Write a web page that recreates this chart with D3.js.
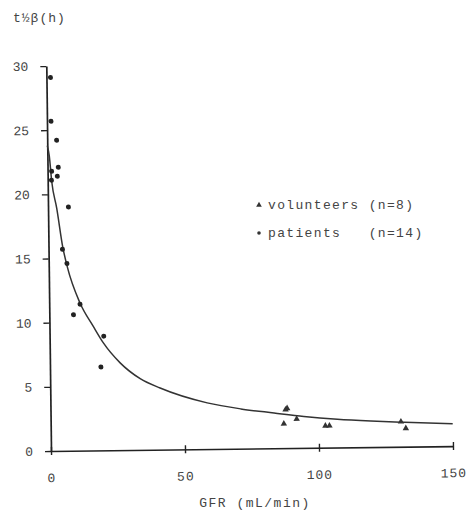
<!DOCTYPE html>
<html>
<head>
<meta charset="utf-8">
<script src="https://cdn.jsdelivr.net/npm/d3@7"></script>
<style>
  body { margin: 0; background: #fff; }
  text { font-family: "Liberation Mono", "DejaVu Sans Mono", monospace; fill: #444; }
</style>
</head>
<body>
<div id="chart"></div>
<script>
// values: GFR (mL/min) vs t1/2 beta (h)
const patientsGfr = [1.5, 1.5, 3.5, 4.0, 3.6, 1.5, 1.4, 7.6, 5.2, 6.8, 11.5, 9.0, 20.2, 19.0];
const patientsT = [29.1, 25.7, 24.2, 22.1, 21.4, 21.8, 21.1, 19.0, 15.7, 14.6, 11.4, 10.6, 8.9, 6.5];

const volunteersGfr = [87.7, 88.3, 87.0, 91.8, 102.5, 104.0, 130.7, 132.5];
const volunteersT = [3.0, 3.1, 1.9, 2.26, 1.7, 1.7, 1.95, 1.43];

// fitted curve
const curveGfr = [0, 0.7, 1.5, 3.25, 5.3, 6.9, 11.5, 16.4, 20.1, 26.2, 33.6, 41, 58.5, 71, 83.4, 94.5, 107, 119.5, 132, 150];
const curveT = [23.8, 23.0, 21, 18.9, 15.9, 14.35, 11.5, 9.65, 8.35, 6.8, 5.55, 4.8, 3.6, 3.1, 2.75, 2.45, 2.2, 2.03, 1.9, 1.75];

const xTicks = [0, 50, 100, 150];
const yTicks = [0, 5, 10, 15, 20, 25, 30];

const legendItems = [
    { label: "volunteers (n=8)", shape: "triangle" },
    { label: "patients   (n=14)", shape: "dot" }
];

const W = 472, H = 510;
const ox = 51, oy = 451;

const svg = d3.select("#chart").append("svg")
    .attr("width", W)
    .attr("height", H);

// scan is slightly rotated
const plot = svg.append("g")
    .attr("transform", `rotate(-0.7, ${ox}, ${oy})`);

const x = d3.scaleLinear().domain([0, 150]).range([ox, 453]);
const y = d3.scaleLinear().domain([0, 30]).range([oy, 66]);

// x axis
const xAxis = plot.append("g")
    .attr("transform", `translate(0, ${oy})`)
    .call(d3.axisBottom(x).tickValues(xTicks).tickSize(4).tickSizeOuter(0).tickPadding(18));
xAxis.select(".domain").attr("stroke", "#222").attr("stroke-width", 1.7);
xAxis.selectAll(".tick line").attr("y1", -4).attr("y2", 4).attr("stroke", "#222").attr("stroke-width", 1.4);
xAxis.selectAll(".tick text")
    .style("font-size", "13px")
    .style("letter-spacing", "1px")
    .attr("fill", "#555");

// y axis
const yAxis = plot.append("g")
    .attr("transform", `translate(${ox}, 0)`)
    .call(d3.axisLeft(y).tickValues(yTicks).tickSize(6).tickSizeOuter(0).tickPadding(12));
yAxis.select(".domain").attr("stroke", "#222").attr("stroke-width", 1.7);
yAxis.selectAll(".tick line").attr("stroke", "#222").attr("stroke-width", 1.3);
yAxis.selectAll(".tick text")
    .style("font-size", "13px")
    .attr("fill", "#555");

// fitted curve
const curveData = curveGfr.map((g, i) => [g, curveT[i]]);
plot.append("path")
    .datum(curveData)
    .attr("fill", "none")
    .attr("stroke", "#333")
    .attr("stroke-width", 1.5)
    .attr("d", d3.line()
        .x(d => x(d[0]))
        .y(d => y(d[1]))
        .curve(d3.curveMonotoneX));

// patients
plot.selectAll(".patient")
    .data(patientsGfr.map((g, i) => [g, patientsT[i]]))
    .enter().append("circle")
    .attr("class", "patient")
    .attr("cx", d => x(d[0]))
    .attr("cy", d => y(d[1]))
    .attr("r", 2.5)
    .attr("fill", "#222");

// volunteers
const tri = d3.symbol().type(d3.symbolTriangle).size(18);
plot.selectAll(".volunteer")
    .data(volunteersGfr.map((g, i) => [g, volunteersT[i]]))
    .enter().append("path")
    .attr("class", "volunteer")
    .attr("transform", d => `translate(${x(d[0])}, ${y(d[1])})`)
    .attr("d", tri)
    .attr("fill", "#333");

// legend
const legend = svg.append("g").attr("transform", "translate(259, 205)");
legendItems.forEach((item, i) => {
    const row = legend.append("g").attr("transform", `translate(0, ${i * 28})`);
    if (item.shape === "triangle") {
        row.append("path").attr("d", d3.symbol().type(d3.symbolTriangle).size(14)).attr("fill", "#333");
    } else {
        row.append("circle").attr("r", 1.8).attr("fill", "#333");
    }
    row.append("text")
        .attr("x", 9)
        .attr("y", 4)
        .style("font-size", "13px")
        .style("letter-spacing", "1.35px")
        .style("white-space", "pre")
        .text(item.label);
});

// axis titles
svg.append("text")
    .attr("x", 13)
    .attr("y", 22)
    .style("font-size", "13px")
    .style("letter-spacing", "1px")
    .text("t½β(h)");

svg.append("text")
    .attr("x", 255)
    .attr("y", 507)
    .attr("text-anchor", "middle")
    .style("font-size", "13px")
    .style("letter-spacing", "1.5px")
    .text("GFR (mL/min)");
</script>
</body>
</html>
